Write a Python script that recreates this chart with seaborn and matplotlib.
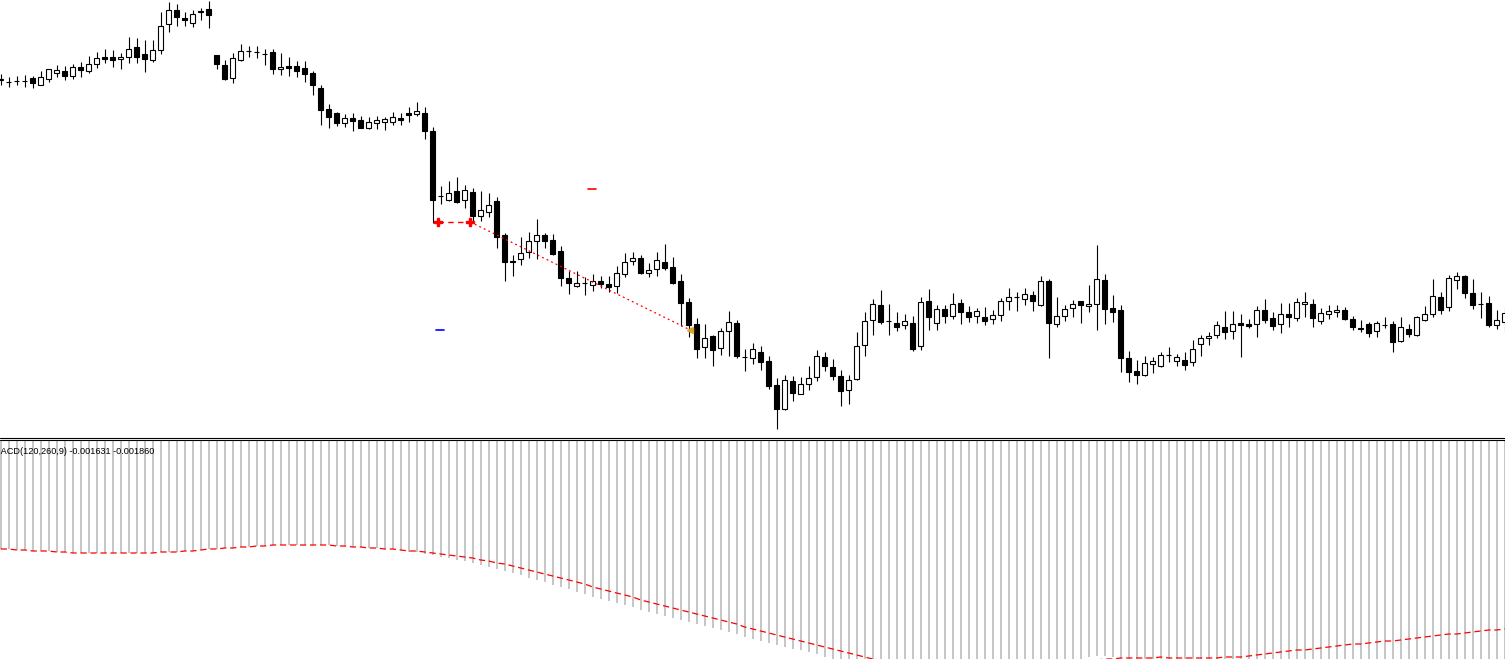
import numpy as np
import matplotlib
matplotlib.use("Agg")
import matplotlib.pyplot as plt
import seaborn as sns
from matplotlib.lines import Line2D

# prix OHLC (une bougie par barre)
opens = [1.1120, 1.1118, 1.1119, 1.1119, 1.1122, 1.1115, 1.1121, 1.1127, 1.1129, 1.1124,
         1.1133, 1.1129, 1.1136, 1.1143, 1.1143, 1.1141, 1.1143, 1.1153, 1.1146, 1.1140,
         1.1150, 1.1176, 1.1190, 1.1182, 1.1177, 1.1188, 1.1191, 1.1145, 1.1135, 1.1122,
         1.1140, 1.1149, 1.1148, 1.1146, 1.1148, 1.1131, 1.1134, 1.1134, 1.1132, 1.1127,
         1.1112, 1.1091, 1.1087, 1.1077, 1.1082, 1.1080, 1.1072, 1.1077, 1.1078, 1.1078,
         1.1082, 1.1087, 1.1086, 1.1087, 1.1069, 1.1004, 1.1000, 1.1009, 1.1000, 1.1008,
         1.0984, 1.0988, 1.0999, 1.0965, 1.0939, 1.0941, 1.0948, 1.0959, 1.0965, 1.0960,
         1.0949, 1.0922, 1.0914, 1.0917, 1.0915, 1.0919, 1.0916, 1.0914, 1.0926, 1.0939,
         1.0942, 1.0927, 1.0931, 1.0938, 1.0933, 1.0919, 1.0898, 1.0876, 1.0853, 1.0864,
         1.0852, 1.0869, 1.0877, 1.0843, 1.0842, 1.0848, 1.0839, 1.0815, 1.0791, 1.0819,
         1.0806, 1.0816, 1.0823, 1.0843, 1.0833, 1.0824, 1.0810, 1.0821, 1.0855, 1.0880,
         1.0895, 1.0879, 1.0877, 1.0875, 1.0877, 1.0854, 1.0899, 1.0877, 1.0891, 1.0884,
         1.0897, 1.0888, 1.0884, 1.0883, 1.0881, 1.0885, 1.0899, 1.0903, 1.0901, 1.0905,
         1.0895, 1.0919, 1.0876, 1.0884, 1.0892, 1.0899, 1.0894, 1.0896, 1.0920, 1.0892,
         1.0890, 1.0842, 1.0829, 1.0825, 1.0836, 1.0834, 1.0845, 1.0839, 1.0840, 1.0838,
         1.0856, 1.0862, 1.0865, 1.0873, 1.0869, 1.0877, 1.0876, 1.0876, 1.0890, 1.0882,
         1.0876, 1.0886, 1.0882, 1.0896, 1.0896, 1.0879, 1.0886, 1.0888, 1.0890, 1.0881,
         1.0872, 1.0876, 1.0869, 1.0875, 1.0876, 1.0859, 1.0871, 1.0865, 1.0880, 1.0886,
         1.0903, 1.0893, 1.0920, 1.0924, 1.0907, 1.0896, 1.0897, 1.0875, 1.0878]

highs = [1.1126, 1.1123, 1.1124, 1.1125, 1.1124, 1.1129, 1.1131, 1.1135, 1.1134, 1.1136,
         1.1138, 1.1144, 1.1148, 1.1151, 1.1150, 1.1147, 1.1163, 1.1162, 1.1160, 1.1160,
         1.1188, 1.1198, 1.1196, 1.1188, 1.1190, 1.1192, 1.1199, 1.1145, 1.1140, 1.1147,
         1.1156, 1.1154, 1.1154, 1.1151, 1.1151, 1.1147, 1.1143, 1.1139, 1.1139, 1.1129,
         1.1115, 1.1096, 1.1088, 1.1086, 1.1087, 1.1084, 1.1083, 1.1084, 1.1083, 1.1088,
         1.1087, 1.1093, 1.1098, 1.1093, 1.1073, 1.1014, 1.1019, 1.1023, 1.1015, 1.1012,
         1.1009, 1.1007, 1.1003, 1.0967, 1.0945, 1.0963, 1.0968, 1.0981, 1.0967, 1.0966,
         1.0954, 1.0929, 1.0929, 1.0923, 1.0926, 1.0924, 1.0924, 1.0934, 1.0947, 1.0948,
         1.0945, 1.0937, 1.0948, 1.0956, 1.0943, 1.0926, 1.0902, 1.0882, 1.0876, 1.0865,
         1.0872, 1.0889, 1.0880, 1.0851, 1.0857, 1.0854, 1.0844, 1.0822, 1.0825, 1.0824,
         1.0823, 1.0834, 1.0850, 1.0848, 1.0841, 1.0830, 1.0825, 1.0868, 1.0888, 1.0901,
         1.0910, 1.0896, 1.0888, 1.0886, 1.0884, 1.0903, 1.0911, 1.0895, 1.0895, 1.0907,
         1.0901, 1.0894, 1.0892, 1.0893, 1.0890, 1.0902, 1.0912, 1.0908, 1.0912, 1.0909,
         1.0924, 1.0921, 1.0903, 1.0895, 1.0900, 1.0899, 1.0915, 1.0955, 1.0926, 1.0905,
         1.0895, 1.0849, 1.0840, 1.0844, 1.0843, 1.0848, 1.0853, 1.0846, 1.0848, 1.0860,
         1.0865, 1.0868, 1.0879, 1.0889, 1.0889, 1.0886, 1.0881, 1.0894, 1.0901, 1.0888,
         1.0897, 1.0897, 1.0902, 1.0908, 1.0901, 1.0892, 1.0895, 1.0895, 1.0893, 1.0884,
         1.0880, 1.0878, 1.0879, 1.0883, 1.0879, 1.0883, 1.0876, 1.0884, 1.0894, 1.0921,
         1.0908, 1.0925, 1.0928, 1.0925, 1.0921, 1.0908, 1.0904, 1.0890, 1.0893]

lows = [1.1115, 1.1113, 1.1115, 1.1113, 1.1112, 1.1115, 1.1118, 1.1123, 1.1120, 1.1121,
        1.1123, 1.1127, 1.1132, 1.1137, 1.1133, 1.1131, 1.1137, 1.1137, 1.1128, 1.1138,
        1.1146, 1.1168, 1.1174, 1.1174, 1.1173, 1.1180, 1.1172, 1.1131, 1.1120, 1.1117,
        1.1139, 1.1143, 1.1142, 1.1135, 1.1126, 1.1125, 1.1124, 1.1123, 1.1118, 1.1105,
        1.1075, 1.1072, 1.1074, 1.1073, 1.1069, 1.1072, 1.1071, 1.1071, 1.1070, 1.1075,
        1.1075, 1.1078, 1.1084, 1.1061, 1.0977, 1.0996, 1.0999, 1.0997, 1.0992, 1.0979,
        1.0979, 1.0983, 1.0952, 1.0919, 1.0924, 1.0935, 1.0942, 1.0941, 1.0952, 1.0945,
        1.0914, 1.0906, 1.0913, 1.0905, 1.0909, 1.0912, 1.0908, 1.0907, 1.0923, 1.0935,
        1.0926, 1.0923, 1.0924, 1.0930, 1.0916, 1.0874, 1.0863, 1.0842, 1.0842, 1.0834,
        1.0845, 1.0844, 1.0842, 1.0829, 1.0836, 1.0830, 1.0811, 1.0771, 1.0790, 1.0799,
        1.0806, 1.0810, 1.0819, 1.0829, 1.0820, 1.0794, 1.0796, 1.0820, 1.0844, 1.0865,
        1.0876, 1.0865, 1.0869, 1.0871, 1.0849, 1.0850, 1.0870, 1.0870, 1.0877, 1.0881,
        1.0876, 1.0878, 1.0877, 1.0875, 1.0876, 1.0879, 1.0890, 1.0889, 1.0895, 1.0889,
        1.0894, 1.0842, 1.0873, 1.0879, 1.0883, 1.0877, 1.0888, 1.0870, 1.0876, 1.0878,
        1.0828, 1.0818, 1.0816, 1.0824, 1.0827, 1.0833, 1.0838, 1.0834, 1.0830, 1.0834,
        1.0844, 1.0855, 1.0862, 1.0861, 1.0861, 1.0843, 1.0872, 1.0863, 1.0877, 1.0870,
        1.0867, 1.0873, 1.0879, 1.0883, 1.0873, 1.0876, 1.0881, 1.0883, 1.0880, 1.0870,
        1.0868, 1.0863, 1.0863, 1.0872, 1.0848, 1.0858, 1.0863, 1.0864, 1.0879, 1.0883,
        1.0886, 1.0889, 1.0911, 1.0902, 1.0891, 1.0882, 1.0873, 1.0871, 1.0869]

closes = [1.1121, 1.1118, 1.1119, 1.1119, 1.1117, 1.1123, 1.1131, 1.1130, 1.1124, 1.1133,
          1.1130, 1.1136, 1.1142, 1.1141, 1.1140, 1.1143, 1.1151, 1.1143, 1.1141, 1.1150,
          1.1174, 1.1190, 1.1183, 1.1180, 1.1186, 1.1189, 1.1185, 1.1136, 1.1121, 1.1142,
          1.1149, 1.1149, 1.1148, 1.1146, 1.1131, 1.1133, 1.1132, 1.1129, 1.1126, 1.1115,
          1.1090, 1.1083, 1.1077, 1.1082, 1.1079, 1.1072, 1.1078, 1.1080, 1.1081, 1.1083,
          1.1080, 1.1085, 1.1089, 1.1069, 1.1000, 1.1004, 1.1007, 1.0998, 1.1010, 1.0984,
          1.0990, 1.0995, 1.0963, 1.0938, 1.0938, 1.0947, 1.0959, 1.0965, 1.0959, 1.0946,
          1.0922, 1.0917, 1.0917, 1.0917, 1.0919, 1.0916, 1.0913, 1.0927, 1.0938, 1.0942,
          1.0927, 1.0930, 1.0940, 1.0932, 1.0917, 1.0897, 1.0875, 1.0851, 1.0862, 1.0850,
          1.0869, 1.0878, 1.0844, 1.0843, 1.0851, 1.0838, 1.0814, 1.0791, 1.0820, 1.0807,
          1.0816, 1.0822, 1.0844, 1.0834, 1.0824, 1.0809, 1.0820, 1.0854, 1.0879, 1.0896,
          1.0878, 1.0879, 1.0873, 1.0879, 1.0851, 1.0898, 1.0883, 1.0891, 1.0884, 1.0896,
          1.0888, 1.0883, 1.0889, 1.0879, 1.0885, 1.0899, 1.0903, 1.0903, 1.0906, 1.0899,
          1.0919, 1.0877, 1.0884, 1.0891, 1.0896, 1.0895, 1.0896, 1.0921, 1.0891, 1.0888,
          1.0842, 1.0828, 1.0825, 1.0837, 1.0839, 1.0845, 1.0845, 1.0843, 1.0835, 1.0851,
          1.0862, 1.0864, 1.0875, 1.0868, 1.0876, 1.0875, 1.0874, 1.0890, 1.0880, 1.0874,
          1.0886, 1.0883, 1.0898, 1.0898, 1.0882, 1.0887, 1.0889, 1.0890, 1.0881, 1.0873,
          1.0871, 1.0867, 1.0877, 1.0875, 1.0858, 1.0873, 1.0866, 1.0883, 1.0886, 1.0904,
          1.0890, 1.0922, 1.0924, 1.0907, 1.0895, 1.0896, 1.0875, 1.0880, 1.0887]

# MACD(120,260,9) : histogramme et ligne de signal
macd_hist = [-0.00109, -0.00109, -0.00110, -0.00110, -0.00111, -0.00111, -0.00111, -0.00112, -0.00112, -0.00113,
             -0.00113, -0.00113, -0.00113, -0.00113, -0.00113, -0.00113, -0.00113, -0.00113, -0.00113, -0.00113,
             -0.00112, -0.00112, -0.00112, -0.00111, -0.00111, -0.00110, -0.00109, -0.00109, -0.00108, -0.00108,
             -0.00107, -0.00107, -0.00106, -0.00106, -0.00105, -0.00105, -0.00105, -0.00105, -0.00105, -0.00105,
             -0.00105, -0.00105, -0.00106, -0.00106, -0.00107, -0.00107, -0.00108, -0.00108, -0.00109, -0.00109,
             -0.00110, -0.00112, -0.00112, -0.00114, -0.00115, -0.00117, -0.00118, -0.00120, -0.00121, -0.00123,
             -0.00125, -0.00127, -0.00129, -0.00131, -0.00133, -0.00135, -0.00138, -0.00140, -0.00142, -0.00145,
             -0.00147, -0.00149, -0.00152, -0.00154, -0.00157, -0.00159, -0.00161, -0.00163, -0.00165, -0.00167,
             -0.00170, -0.00172, -0.00174, -0.00176, -0.00178, -0.00180, -0.00182, -0.00184, -0.00186, -0.00188,
             -0.00190, -0.00192, -0.00194, -0.00197, -0.00199, -0.00201, -0.00203, -0.00205, -0.00207, -0.00209,
             -0.00210, -0.00212, -0.00214, -0.00217, -0.00221, -0.00224, -0.00226, -0.00228, -0.00230, -0.00231,
             -0.00232, -0.00233, -0.00233, -0.00233, -0.00232, -0.00231, -0.00230, -0.00229, -0.00228, -0.00227,
             -0.00226, -0.00225, -0.00224, -0.00223, -0.00223, -0.00222, -0.00222, -0.00221, -0.00221, -0.00221,
             -0.00220, -0.00220, -0.00220, -0.00220, -0.00220, -0.00220, -0.00217, -0.00216, -0.00216, -0.00217,
             -0.00222, -0.00226, -0.00230, -0.00233, -0.00235, -0.00237, -0.00238, -0.00239, -0.00239, -0.00239,
             -0.00239, -0.00238, -0.00237, -0.00236, -0.00235, -0.00234, -0.00233, -0.00232, -0.00231, -0.00230,
             -0.00229, -0.00228, -0.00227, -0.00226, -0.00225, -0.00225, -0.00224, -0.00224, -0.00223, -0.00223,
             -0.00223, -0.00223, -0.00223, -0.00223, -0.00223, -0.00223, -0.00223, -0.00223, -0.00223, -0.00223,
             -0.00223, -0.00223, -0.00223, -0.00223, -0.00223, -0.00223, -0.00223, -0.00223, -0.00223]

macd_signal = [-0.00109, -0.00109, -0.00110, -0.00110, -0.00111, -0.00111, -0.00111, -0.00112, -0.00112, -0.00113,
               -0.00113, -0.00113, -0.00113, -0.00113, -0.00113, -0.00113, -0.00113, -0.00113, -0.00113, -0.00113,
               -0.00112, -0.00112, -0.00112, -0.00111, -0.00111, -0.00110, -0.00109, -0.00109, -0.00108, -0.00108,
               -0.00107, -0.00107, -0.00106, -0.00106, -0.00105, -0.00105, -0.00105, -0.00105, -0.00105, -0.00105,
               -0.00105, -0.00105, -0.00106, -0.00106, -0.00107, -0.00107, -0.00108, -0.00108, -0.00109, -0.00109,
               -0.00110, -0.00111, -0.00111, -0.00112, -0.00113, -0.00114, -0.00115, -0.00116, -0.00117, -0.00118,
               -0.00120, -0.00121, -0.00123, -0.00124, -0.00126, -0.00128, -0.00130, -0.00132, -0.00134, -0.00136,
               -0.00138, -0.00140, -0.00142, -0.00144, -0.00147, -0.00149, -0.00151, -0.00153, -0.00155, -0.00157,
               -0.00160, -0.00162, -0.00164, -0.00166, -0.00168, -0.00170, -0.00172, -0.00174, -0.00176, -0.00178,
               -0.00180, -0.00182, -0.00184, -0.00187, -0.00189, -0.00191, -0.00193, -0.00195, -0.00197, -0.00199,
               -0.00201, -0.00203, -0.00205, -0.00207, -0.00209, -0.00211, -0.00213, -0.00215, -0.00217, -0.00219,
               -0.00220, -0.00221, -0.00222, -0.00223, -0.00224, -0.00225, -0.00226, -0.00226, -0.00227, -0.00227,
               -0.00228, -0.00228, -0.00228, -0.00228, -0.00228, -0.00228, -0.00227, -0.00227, -0.00226, -0.00225,
               -0.00224, -0.00223, -0.00222, -0.00222, -0.00221, -0.00221, -0.00220, -0.00220, -0.00219, -0.00219,
               -0.00218, -0.00218, -0.00218, -0.00218, -0.00218, -0.00217, -0.00218, -0.00218, -0.00218, -0.00218,
               -0.00218, -0.00218, -0.00218, -0.00217, -0.00217, -0.00217, -0.00216, -0.00215, -0.00214, -0.00213,
               -0.00212, -0.00211, -0.00210, -0.00210, -0.00209, -0.00208, -0.00207, -0.00206, -0.00205, -0.00204,
               -0.00204, -0.00203, -0.00202, -0.00201, -0.00201, -0.00200, -0.00199, -0.00198, -0.00197, -0.00196,
               -0.00195, -0.00194, -0.00194, -0.00193, -0.00192, -0.00191, -0.00190, -0.00190, -0.00189]

macd_label = "MACD(120,260,9) -0.001631 -0.001860"

# ordres (historique du compte) : entrées, sortie, SL et TP
entry_bars = [54.6, 58.7]
entry_prices = [1.0978, 1.0978]
exit_bar = 86.2
exit_price = 1.0870
sl_bars = [73.4, 74.4]
sl_price = 1.1011
tp_bars = [54.4, 55.4]
tp_price = 1.0870

sns.set_style("white")

idx = np.arange(len(opens))
o = np.array(opens)
c = np.array(closes)
bull = c >= o

fig = plt.figure(figsize=(15.05, 6.59), dpi=100)
W, H = 1505, 659
ax = fig.add_axes([0, (H - 437) / H, 1, 437 / H])
axm = fig.add_axes([0, 0, 1, 218 / H])

for a in (ax, axm):
    a.set_xlim(-0.0875, -0.0875 + W / 8)
    a.set_xticks([])
    a.set_yticks([])
    for s in a.spines.values():
        s.set_visible(False)

# bougies
ax.vlines(idx, lows, highs, color="black", linewidth=0.8)
bottom = np.minimum(o, c)
height = np.maximum(np.abs(c - o), 0.000012)
ax.bar(idx[bull], height[bull], bottom=bottom[bull], width=0.56,
       color="white", edgecolor="black", linewidth=0.8, zorder=3)
ax.bar(idx[~bull], height[~bull], bottom=bottom[~bull], width=0.56,
       color="black", edgecolor="black", linewidth=0.8, zorder=3)
ax.set_ylim(1.0763, 1.1200)

# ordres
ax.plot([entry_bars[0], entry_bars[1]], entry_prices, color="red",
        linewidth=1, linestyle=(0, (4, 3)), zorder=4)
ax.plot([entry_bars[1], exit_bar], [entry_prices[1], exit_price], color="red",
        linewidth=0.9, linestyle=(0, (1.5, 2.5)), zorder=4)
ax.plot(entry_bars, entry_prices, linestyle="none", marker="P", markersize=6,
        color="red", zorder=5)
ax.plot([exit_bar], [exit_price], linestyle="none", marker="<", markersize=5,
        color="#DAA520", zorder=5)
ax.plot(sl_bars, [sl_price, sl_price], color="red", linewidth=1.2)
ax.plot(tp_bars, [tp_price, tp_price], color="blue", linewidth=1.2)

# séparateur des fenêtres
for yy in (437.5, 439.5):
    fig.add_artist(Line2D([0, 1], [1 - yy / H, 1 - yy / H], color="black", linewidth=0.8))

# MACD
axm.vlines(idx, 0, macd_hist, color="#C0C0C0", linewidth=1.3)
sns.lineplot(x=idx, y=macd_signal, ax=axm, color="red", linewidth=0.9,
             linestyle=(0, (5, 3)))
axm.set_ylim(-0.00219, -0.00001)
axm.text(-0.0875 - 7 / 8, -0.00011, macd_label, fontsize=6.6,
         family=["Liberation Sans", "DejaVu Sans"], va="center", ha="left", color="black")

fig.savefig("out.png", dpi=100)
